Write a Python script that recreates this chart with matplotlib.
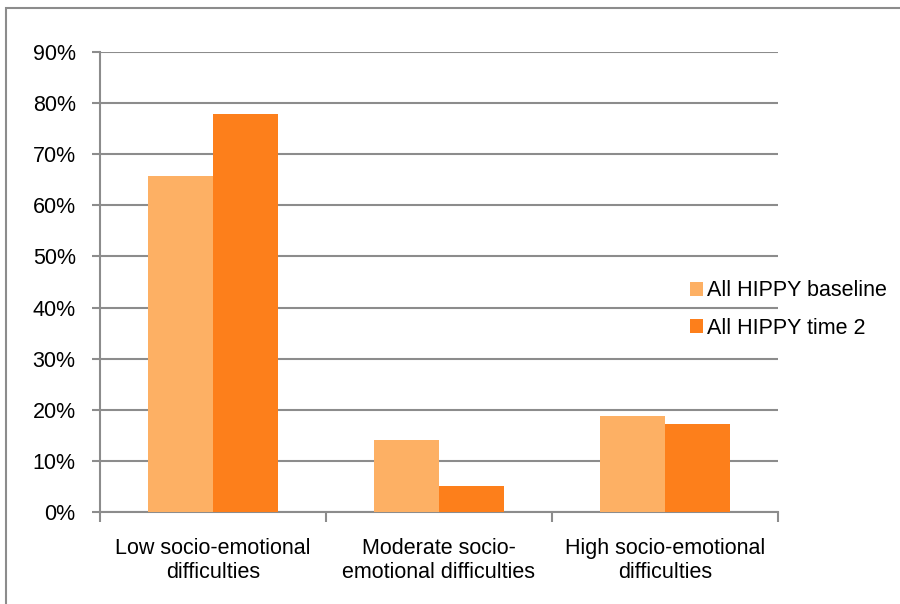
import matplotlib
matplotlib.use("Agg")
import matplotlib.pyplot as plt
import numpy as np
from matplotlib.patches import Rectangle

categories = ["Low socio-emotional\ndifficulties", "Moderate socio-\nemotional difficulties", "High socio-emotional\ndifficulties"]
baseline = [65.8, 14.0, 18.7]
time2 = [77.9, 5.0, 17.2]
series_names = ["All HIPPY baseline", "All HIPPY time 2"]
yticks = [0, 10, 20, 30, 40, 50, 60, 70, 80, 90]

plt.rcParams['font.family'] = ['Liberation Sans', 'DejaVu Sans']
FS = 15.5

fig = plt.figure(figsize=(9, 6.04), dpi=100)
ax = fig.add_axes([100/900, 1-512/604, 678/900, 460/604])

grid_c = "#8c8c8c"
x = np.arange(len(categories))
w = 1/3.5
ax.bar(x - w/2, baseline, width=w, color="#fdb064", label=series_names[0], zorder=3)
ax.bar(x + w/2, time2, width=w, color="#fd7f1b", label=series_names[1], zorder=3)

ax.set_xlim(-0.5, 2.5)
ax.set_ylim(0, 90)
ax.set_yticks(yticks)
ax.set_yticklabels([f"{v}%" for v in yticks], fontsize=FS)
ax.yaxis.grid(True, color=grid_c, linewidth=1.5, zorder=0)
ax.set_xticks([-0.5, 0.5, 1.5, 2.5])
ax.set_xticklabels([])
ax.set_xticks(x, minor=True)
ax.set_xticklabels(categories, minor=True, fontsize=FS, linespacing=1.18)
ax.tick_params(axis='x', which='minor', length=0, pad=19)
ax.tick_params(axis='x', which='major', length=7, width=1.5, color=grid_c)
ax.tick_params(axis='y', length=6, width=1.5, color=grid_c, pad=11.5)
for s in ['top', 'right']:
    ax.spines[s].set_visible(False)
for s in ['left', 'bottom']:
    ax.spines[s].set_color(grid_c)
    ax.spines[s].set_linewidth(1.5)

leg = fig.legend(loc='upper left', bbox_to_anchor=(671/900, 1-261/604), frameon=False,
                 fontsize=FS, handlelength=0.6, handleheight=0.6, handletextpad=0.15,
                 labelspacing=0.75)

fig.patches.append(Rectangle((6/900, -10/604), 910/900, 606/604, transform=fig.transFigure,
                             fill=False, edgecolor="#8c8c8c", linewidth=1.5))

fig.savefig("out.png", dpi=100)
